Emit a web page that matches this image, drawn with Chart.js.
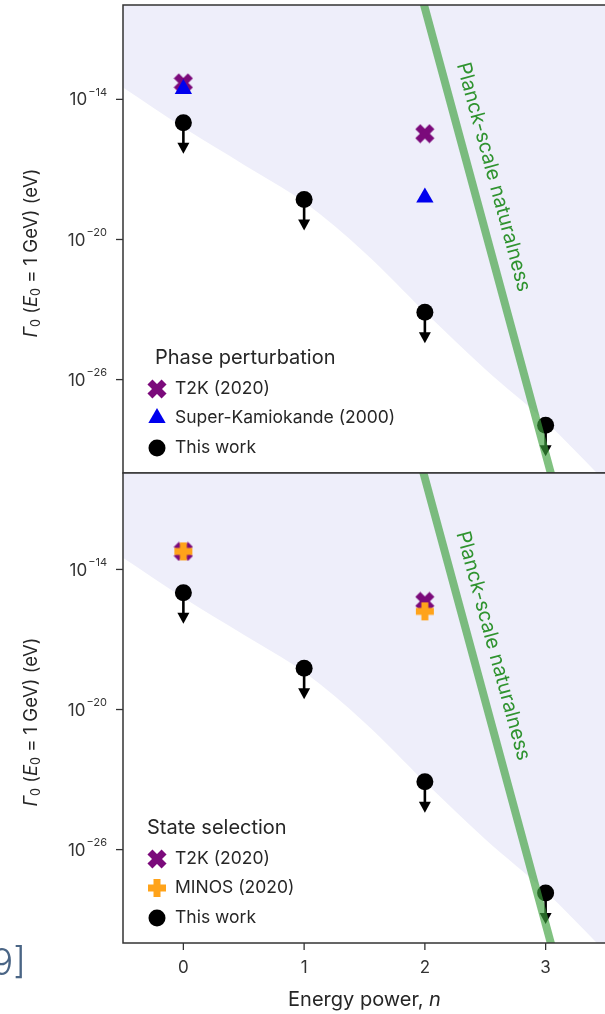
<!DOCTYPE html>
<html>
<head>
<meta charset="utf-8">
<script src="https://cdn.jsdelivr.net/npm/chart.js@4.4.1/dist/chart.umd.min.js"></script>
<style>
  html, body { margin: 0; padding: 0; background: #fff; overflow: hidden; width: 605px; height: 1014px; }
  canvas { position: absolute; left: 0; }
  #topPanel { top: 0; }
  #bottomPanel { top: 468px; }
  #refTag { position: absolute; left: -9px; top: 939px; font: 300 37px Inter, sans-serif; color: #4a6585; }
</style>
</head>
<body>
<canvas id="topPanel" width="612" height="475"></canvas>
<canvas id="bottomPanel" width="612" height="546"></canvas>
<div id="refTag">9]</div>
<script>
// energy power n
const powers = [0, 1, 2, 3];
const xTicks = [0, 1, 2, 3];
const yTicks = [1e-26, 1e-20, 1e-14];
const yRangeTop = [1.1e-30, 1.1e-10];
const yRangeBottom = [1.35e-30, 1.35e-10];

// phase perturbation (top)
const t2kPhaseN = [0, 2];
const t2kPhase = [5.1e-14, 3.4e-16];
const superKN = [0, 2];
const superK = [2.8e-14, 6.3e-19];
const thisWorkPhase = [1.0e-15, 5.1e-19, 7.6e-24, 1.1e-28];

// state selection (bottom)
const t2kStateN = [0, 2];
const t2kState = [5.9e-14, 4.3e-16];
const minosN = [0, 2];
const minos = [5.9e-14, 1.6e-16];
const thisWorkState = [1.0e-15, 5.8e-19, 8.1e-24, 1.4e-28];

// excluded region, lower edge
const bandN = [-0.5, 0, 0.5, 1, 1.5, 2, 2.5, 3, 3.5];
const bandGamma = [3.2e-14, 6.2e-16, 1.6e-17, 4e-19, 2.8e-21, 7.9e-24, 2.8e-26, 1.6e-28, 4e-31];

// Planck-scale naturalness line
const planckN = [1.9, 3.1];
const planckGamma = [6.6e-9, 8.1e-32];

const FONT = 'Inter, "Noto Sans", sans-serif';
const TXT = '#262626';

function pts(xs, ys) { return xs.map((x, i) => ({ x: x, y: ys[i] })); }

// thick filled cross markers (X for T2K, + for MINOS)
function crossImage(color, rotated) {
  const c = document.createElement('canvas');
  c.width = 20; c.height = 20;
  const g = c.getContext('2d');
  g.translate(10, 10);
  if (rotated) g.rotate(Math.PI / 4);
  g.fillStyle = color;
  const s = rotated ? 20 : 18, t = 7;
  g.fillRect(-s / 2, -t / 2, s, t);
  g.fillRect(-t / 2, -s / 2, t, s);
  return c;
}
const xMark = crossImage('#7b0a7b', true);
const plusMark = crossImage('#ffa31a', false);

function drawMarker(ctx, m, x, y) {
  if (m.style instanceof HTMLCanvasElement) {
    ctx.drawImage(m.style, x - m.style.width / 2, y - m.style.height / 2);
    return;
  }
  ctx.fillStyle = m.color;
  ctx.beginPath();
  if (m.style === 'triangle') {
    const r = 10;
    ctx.moveTo(x, y - r);
    ctx.lineTo(x + r * 0.866, y + r / 2);
    ctx.lineTo(x - r * 0.866, y + r / 2);
    ctx.closePath();
  } else {
    ctx.arc(x, y, 8.5, 0, Math.PI * 2);
  }
  ctx.fill();
}

function richText(ctx, parts, cx, cy) {
  let total = 0;
  parts.forEach(p => { ctx.font = p.f; total += ctx.measureText(p.t).width; });
  let x = cx - total / 2;
  ctx.textAlign = 'left';
  ctx.textBaseline = 'middle';
  parts.forEach(p => {
    ctx.font = p.f;
    ctx.fillText(p.t, x, cy + (p.dy || 0));
    x += ctx.measureText(p.t).width;
  });
}

const decor = {
  id: 'decor',
  afterDatasetDraw(chart, args) {
    const ds = chart.data.datasets[args.index];
    if (!ds.arrows) return;
    const ctx = chart.ctx;
    ctx.save();
    ctx.fillStyle = '#000';
    ctx.strokeStyle = '#000';
    ctx.lineWidth = 2.6;
    args.meta.data.forEach(p => {
      ctx.beginPath();
      ctx.moveTo(p.x, p.y);
      ctx.lineTo(p.x, p.y + 23);
      ctx.stroke();
      ctx.beginPath();
      ctx.moveTo(p.x - 6, p.y + 20);
      ctx.lineTo(p.x + 6, p.y + 20);
      ctx.lineTo(p.x, p.y + 31);
      ctx.closePath();
      ctx.fill();
    });
    ctx.restore();
  },
  afterDraw(chart) {
    const o = chart.options.plugins.decor;
    const ctx = chart.ctx;
    const a = chart.chartArea;
    const ys = chart.scales.y, xs = chart.scales.x;
    ctx.save();

    // Planck label along the line
    const meta = chart.getDatasetMeta(0);
    const p0 = meta.data[0], p1 = meta.data[1];
    const ty = a.top + 0.38 * (a.bottom - a.top);
    const tx = p0.x + (ty - p0.y) * (p1.x - p0.x) / (p1.y - p0.y);
    ctx.translate(tx, ty);
    ctx.rotate(Math.atan2(p1.y - p0.y, p1.x - p0.x));
    ctx.fillStyle = '#2f932f';
    ctx.font = '20px ' + FONT;
    ctx.textAlign = 'center';
    ctx.textBaseline = 'middle';
    ctx.fillText('Planck-scale naturalness', 0, -22);
    ctx.setTransform(1, 0, 0, 1, 0, 0);

    // frame
    ctx.strokeStyle = '#333';
    ctx.lineWidth = 1.5;
    ctx.strokeRect(a.left, a.top, a.right - a.left, a.bottom - a.top);

    // y ticks
    ctx.fillStyle = '#333';
    ctx.lineWidth = 1.3;
    yTicks.forEach(v => {
      const py = ys.getPixelForValue(v);
      ctx.beginPath();
      ctx.moveTo(a.left - 7, py);
      ctx.lineTo(a.left, py);
      ctx.stroke();
      const exp = '\u2212' + Math.round(-Math.log10(v));
      ctx.font = '11px ' + FONT;
      const ew = ctx.measureText(exp).width;
      ctx.textAlign = 'left';
      ctx.textBaseline = 'middle';
      const ex = a.left - 16 - ew;
      ctx.fillText(exp, ex, py - 7);
      ctx.font = '17px ' + FONT;
      ctx.textAlign = 'right';
      ctx.fillText('10', ex - 1, py + 1);
    });

    // y title
    ctx.save();
    ctx.translate(31, (a.top + a.bottom) / 2 + 14);
    ctx.rotate(-Math.PI / 2);
    ctx.fillStyle = TXT;
    richText(ctx, [
      { t: '\u0393', f: 'italic 18.5px ' + FONT },
      { t: '0', f: '12.5px ' + FONT, dy: 5 },
      { t: ' (', f: '18.5px ' + FONT },
      { t: 'E', f: 'italic 18.5px ' + FONT },
      { t: '0', f: '12.5px ' + FONT, dy: 5 },
      { t: ' = 1 GeV) (eV)', f: '18.5px ' + FONT }
    ], 0, 0);
    ctx.restore();

    // x axis (bottom panel only)
    if (o.xAxis) {
      ctx.strokeStyle = '#333';
      ctx.fillStyle = '#333';
      ctx.font = '17px ' + FONT;
      ctx.textAlign = 'center';
      ctx.textBaseline = 'middle';
      xTicks.forEach(v => {
        const px = xs.getPixelForValue(v);
        ctx.beginPath();
        ctx.moveTo(px, a.bottom);
        ctx.lineTo(px, a.bottom + 7);
        ctx.stroke();
        ctx.fillText(String(v), px, a.bottom + 25);
      });
      ctx.fillStyle = TXT;
      richText(ctx, [
        { t: 'Energy power, ', f: '20px ' + FONT },
        { t: 'n', f: 'italic 20px ' + FONT }
      ], (a.left + a.right) / 2, a.bottom + 57);
    }

    // legend
    ctx.fillStyle = TXT;
    ctx.font = '20px ' + FONT;
    ctx.textAlign = 'left';
    ctx.textBaseline = 'middle';
    ctx.fillText(o.title, o.titleX, a.bottom - 115);
    const rowY = [a.bottom - 84, a.bottom - 55, a.bottom - 25];
    o.items.forEach((m, i) => {
      drawMarker(ctx, m, a.left + 34, rowY[i]);
      ctx.fillStyle = TXT;
      ctx.font = '17.5px ' + FONT;
      ctx.textAlign = 'left';
      ctx.textBaseline = 'middle';
      ctx.fillText(m.label, a.left + 52, rowY[i]);
    });
    ctx.restore();
  }
};

function makePanel(id, markers, legendTitle, titleX, thisWork, yRange, showX, padding) {
  const datasets = [
    {
      type: 'line', data: pts(planckN, planckGamma), order: 0,
      borderColor: 'rgba(60,160,60,0.65)', borderWidth: 8, pointRadius: 0, fill: false
    },
    {
      type: 'scatter', label: 'This work', data: pts(powers, thisWork), order: 1, arrows: true,
      pointStyle: 'circle', pointRadius: 8.5, backgroundColor: '#000', borderWidth: 0
    }
  ];
  markers.forEach((m, i) => {
    datasets.push({
      type: 'scatter', label: m.label, data: pts(m.n, m.vals), order: 2 + i,
      pointStyle: m.style, pointRadius: m.style === 'triangle' ? 10 : 9,
      backgroundColor: m.color, borderWidth: 0
    });
  });
  datasets.push({
    type: 'line', data: pts(bandN, bandGamma), order: 9,
    borderWidth: 0, pointRadius: 0, cubicInterpolationMode: 'monotone',
    fill: 'end', backgroundColor: 'rgb(238,238,250)'
  });

  const legendItems = markers.slice().reverse().concat([{ label: 'This work', style: 'circle', color: '#000' }]);

  return new Chart(document.getElementById(id), {
    data: { datasets: datasets },
    options: {
      responsive: false,
      animation: false,
      devicePixelRatio: 1,
      layout: { padding: padding, autoPadding: false },
      plugins: {
        legend: { display: false },
        tooltip: { enabled: false },
        decor: { title: legendTitle, titleX: titleX, items: legendItems, xAxis: showX }
      },
      scales: {
        x: {
          type: 'linear', min: -0.5, max: 3.5, display: showX,
          grid: { display: false }, border: { display: false }, ticks: { display: false },
          afterFit: s => { s.height = showX ? 71 : 0; }
        },
        y: {
          type: 'logarithmic', min: yRange[0], max: yRange[1],
          grid: { display: false }, border: { display: false }, ticks: { display: false },
          afterFit: s => { s.width = 123; }
        }
      }
    },
    plugins: [decor]
  });
}

makePanel('topPanel', [
  { label: 'Super-Kamiokande (2000)', n: superKN, vals: superK, style: 'triangle', color: '#0000ee' },
  { label: 'T2K (2020)', n: t2kPhaseN, vals: t2kPhase, style: xMark, color: '#7b0a7b' }
], 'Phase perturbation', 155, thisWorkPhase, yRangeTop, false, { left: 0, top: 5, right: 6, bottom: 2 });

makePanel('bottomPanel', [
  { label: 'MINOS (2020)', n: minosN, vals: minos, style: plusMark, color: '#ffa31a' },
  { label: 'T2K (2020)', n: t2kStateN, vals: t2kState, style: xMark, color: '#7b0a7b' }
], 'State selection', 147, thisWorkState, yRangeBottom, true, { left: 0, top: 5, right: 6, bottom: 0 });
</script>
</body>
</html>
